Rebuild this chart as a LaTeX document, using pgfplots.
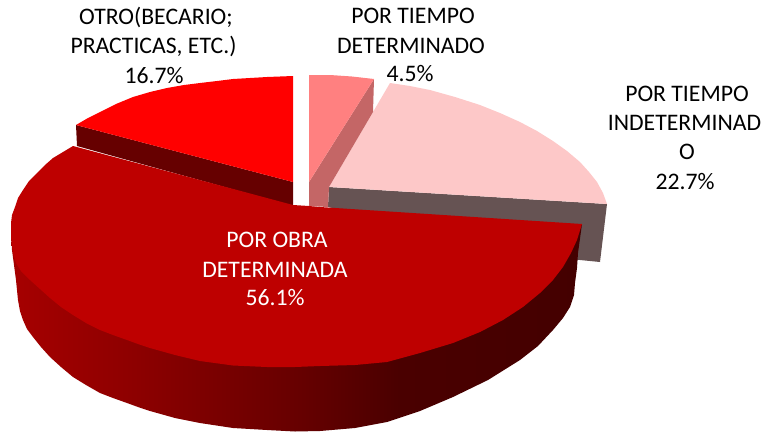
\documentclass[border=0pt]{standalone}
\usepackage{pgfplots}
\pgfplotsset{compat=1.18}
\usepackage{fontspec}
\setmainfont{Carlito}
\definecolor{cbig}{HTML}{BE0000}
\definecolor{cred}{HTML}{FF0000}
\definecolor{credside}{HTML}{660000}
\definecolor{cpale}{HTML}{FDC8C8}
\definecolor{cpaleside}{HTML}{665353}
\definecolor{cpink}{HTML}{FF8080}
\definecolor{cpinkside}{HTML}{C46666}
\definecolor{s0}{HTML}{A60000}
\definecolor{s1}{HTML}{8E0000}
\definecolor{s2}{HTML}{660000}
\definecolor{s3}{HTML}{4A0000}
\definecolor{s4}{HTML}{440000}
\pgfdeclarehorizontalshading{sidegrad}{100bp}{color(0bp)=(s0); color(25bp)=(s0); color(35.4bp)=(s1); color(50.3bp)=(s2); color(59bp)=(s3); color(75bp)=(s4); color(100bp)=(s4)}
\begin{document}
\begin{tikzpicture}
\begin{axis}[
  x=1pt,y=1pt,y dir=reverse,
  xmin=0,xmax=763,ymin=0,ymax=432,
  scale only axis,hide axis,clip=false,
  every axis plot/.append style={draw=none,mark=none,line width=0pt},
]
\path[use as bounding box] (axis cs:0,0) rectangle (axis cs:763,432);
% pale slice side
\addplot[fill=cpaleside] coordinates {(329,187)(607,204)(600,262)(560,258)(328,207)};
% pale slice top
\addplot[fill=cpale] coordinates {(390,83)(410,86)(430,90)(455,97)(480,105)(500,113)(520,122)(537,131)(553,141)(567,151)(580,162)(589,172)(597,182)(603,193)(607,204)(329,187)};
% pink slice side
\addplot[fill=cpinkside] coordinates {(374,79)(373,112)(329,187)(328,207)(309,206)(309,182)};
% pink slice top
\addplot[fill=cpink] coordinates {(309,75)(330,75)(352,76.5)(374,79)(309,182)};
% red slice side
\addplot[fill=credside] coordinates {(76,125)(77,146)(293,206)(293,182)};
% red slice top
\addplot[fill=cred] coordinates {(76,125)(88,118)(100,112)(116,104)(133,97)(150,92)(167,88)(184,85)(200,83)(217,81)(233,79)(250,78)(267,77)(280,76.5)(293,76)(293,182)};
% big slice side
\addplot[shading=sidegrad] coordinates {(11,233)(12,250)(14,265)(16,280)(18,300)(20,311)(23,320)(27,329)(33,337)(41,347)(50,357)(61,367)(73,377)(86,385)(100,393)(113,398)(127,403)(138,407)(150,411)(175,418)(200,423)(233,428)(267,430)(295,431.5)(320,431)(355,428)(387,422)(420,411)(453,397)(488,380)(520,360)(538,346)(553,330)(563,318)(570,307)(574,295)(575,283)(577,268)(578,253)(582,224)(300,300)};
% big slice top
\addplot[fill=cbig] coordinates {(73,146)(63,152)(53,158)(45,165)(37,173)(29,181)(23,190)(18,198)(15,207)(12,215)(11,223)(11,237)(13,253)(16,263)(21,271)(30,280)(40,289)(50,298)(61,307)(73,315)(86,323)(100,330)(113,335)(127,340)(138,344)(150,348)(175,355)(200,361)(233,365.5)(267,367)(295,367)(320,366)(355,365)(387,362)(420,353)(453,343)(480,332)(503,320)(523,307)(540,293)(553,280)(563,267)(571,253)(577,240)(582,224)(320,207)(309,206)(293,205)};
% labels
\foreach \px/\py/\t in {
156/17/{OTRO(BECARIO;},153.5/46/{PRACTICAS, ETC.)},154/76/{16.7\%},
413/16/{POR TIEMPO},411/46/{DETERMINADO},410/74/{4.5\%},
687/94/{POR TIEMPO},684.5/123/{INDETERMINAD},687/152/{O},685/182/{22.7\%}}{
  \edef\tmp{\noexpand\node[black,inner sep=0pt,font=\noexpand\fontsize{23.7}{26}\noexpand\selectfont,anchor=center] at (axis cs:\px,\py) {\unexpanded\expandafter{\t}};}\tmp
}
\foreach \px/\py/\t in {277/240/{POR OBRA},275/270/{DETERMINADA},275/298/{56.1\%}}{
  \edef\tmp{\noexpand\node[white,inner sep=0pt,font=\noexpand\fontsize{23.7}{26}\noexpand\selectfont,anchor=center] at (axis cs:\px,\py) {\unexpanded\expandafter{\t}};}\tmp
}
\end{axis}
\end{tikzpicture}
\end{document}
